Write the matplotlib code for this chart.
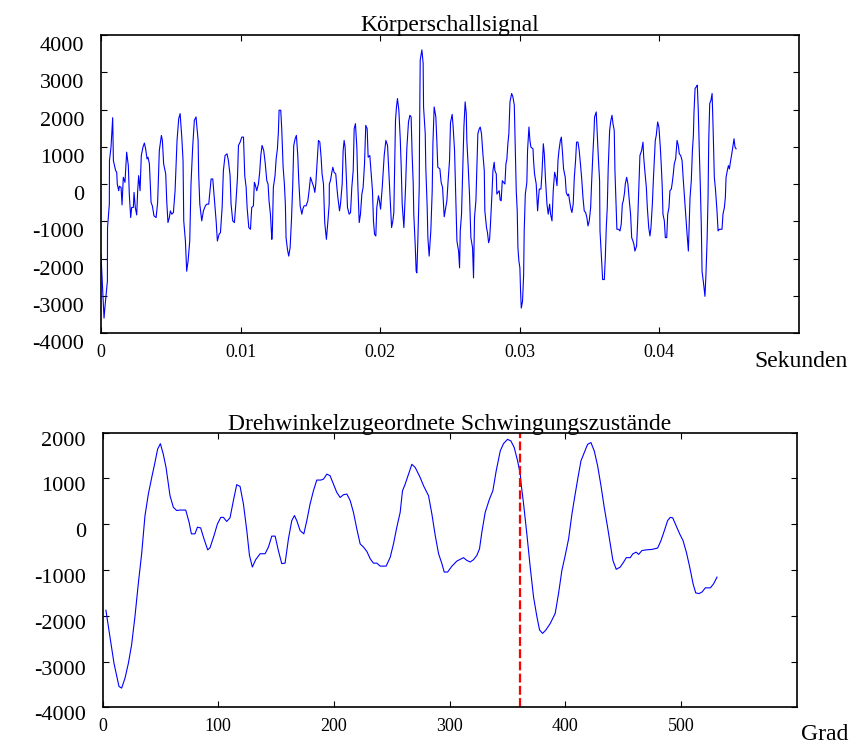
import numpy as np
import matplotlib
matplotlib.use("Agg")
import matplotlib.pyplot as plt
from matplotlib.transforms import ScaledTranslation

plt.rcParams['font.family'] = ['Liberation Serif', 'DejaVu Serif']
plt.rcParams['axes.unicode_minus'] = False

# Koerperschallsignal (Zeit in ms, Amplitude)
sig_ms = [
    0.00, 0.22, 0.29, 0.46, 0.47, 0.60, 0.61, 0.72, 0.84, 0.89, 1.05, 1.13, 1.17, 1.27, 1.32, 1.44,
    1.51, 1.60, 1.72, 1.84, 1.96, 2.03, 2.13, 2.20, 2.32, 2.37, 2.46, 2.56, 2.63, 2.70, 2.80, 2.89,
    3.01, 3.11, 3.20, 3.30, 3.37, 3.47, 3.59, 3.68, 3.80, 3.95, 4.06, 4.18, 4.33, 4.40, 4.49, 4.64,
    4.71, 4.80, 4.90, 4.97, 5.07, 5.19, 5.31, 5.45, 5.57, 5.67, 5.79, 5.88, 5.93, 6.05, 6.14, 6.24,
    6.36, 6.45, 6.57, 6.69, 6.81, 6.96, 7.00, 7.08, 7.22, 7.34, 7.48, 7.58, 7.72, 7.82, 7.89, 8.01,
    8.15, 8.25, 8.34, 8.46, 8.56, 8.68, 8.77, 8.89, 9.03, 9.13, 9.25, 9.32, 9.44, 9.56, 9.66, 9.78,
    9.85, 9.97, 10.09, 10.21, 10.30, 10.40, 10.47, 10.59, 10.71, 10.80, 10.92, 10.99,
    11.04, 11.16, 11.28, 11.37, 11.45, 11.54, 11.66, 11.76, 11.88, 11.97, 12.04, 12.14, 12.24, 12.28,
    12.35, 12.47, 12.55, 12.64, 12.71, 12.76, 12.88, 12.95, 13.05, 13.14, 13.21, 13.26, 13.36, 13.45,
    13.55, 13.65, 13.74, 13.81, 13.91, 14.00, 14.10, 14.17, 14.27, 14.39, 14.46, 14.55, 14.70, 14.82,
    14.91, 15.01, 15.13, 15.25, 15.32, 15.39, 15.48, 15.58, 15.68, 15.77, 15.84, 15.94, 16.03, 16.15,
    16.25, 16.35, 16.36, 16.44, 16.54, 16.61, 16.70, 16.82, 16.90, 16.97, 17.09, 17.16, 17.28, 17.35,
    17.42, 17.49, 17.59, 17.66, 17.78, 17.88, 17.97, 18.07, 18.14, 18.23, 18.33, 18.40, 18.50, 18.59,
    18.69, 18.78, 18.88, 18.97, 19.07, 19.14, 19.26, 19.36, 19.45, 19.52, 19.60, 19.69, 19.76, 19.88,
    19.95, 20.03, 20.15, 20.22, 20.29, 20.41, 20.53, 20.62, 20.72, 20.82, 20.91, 20.98, 21.10, 21.17,
    21.24, 21.34, 21.44, 21.51, 21.58, 21.70, 21.82, 21.91, 22.03, 22.13,
    22.22, 22.29, 22.37, 22.41, 22.51, 22.58, 22.63, 22.70, 22.80, 22.82, 22.87, 22.99, 23.08, 23.11,
    23.23, 23.27, 23.37, 23.42, 23.51, 23.63, 23.73, 23.78, 23.87, 23.99, 24.06, 24.13, 24.28, 24.37,
    24.47, 24.54, 24.59, 24.68, 24.78, 24.87, 24.97, 25.04, 25.16, 25.23, 25.33, 25.42, 25.50, 25.62,
    25.69, 25.74, 25.83, 25.88, 26.00, 26.09, 26.17, 26.21, 26.31, 26.40, 26.50, 26.62, 26.69, 26.76,
    26.86, 26.93, 27.00, 27.10, 27.17, 27.26, 27.36, 27.46, 27.50, 27.62, 27.69, 27.77, 27.84, 27.89,
    28.01, 28.08, 28.17, 28.22, 28.32, 28.36, 28.44, 28.53, 28.60, 28.67, 28.75, 28.84, 28.94, 29.01,
    29.08, 29.15, 29.22, 29.30, 29.42, 29.51, 29.61, 29.68, 29.75, 29.82, 29.87, 29.94, 30.01, 30.06,
    30.11, 30.20, 30.28, 30.32, 30.40, 30.51, 30.56, 30.66, 30.73, 30.80, 30.95, 30.99, 31.06, 31.18,
    31.28, 31.33, 31.40, 31.52, 31.59, 31.69, 31.76, 31.85, 31.95, 32.04, 32.14, 32.21, 32.31, 32.40,
    32.50, 32.59, 32.67, 32.74, 32.81, 32.91, 32.98, 33.07, 33.14,
    33.26, 33.33, 33.43, 33.50, 33.57, 33.67, 33.74, 33.83, 33.91, 34.00, 34.07, 34.17, 34.26, 34.36,
    34.45, 34.53, 34.62, 34.72, 34.81, 34.89, 34.98, 35.08, 35.15, 35.24, 35.32, 35.36, 35.48, 35.55,
    35.63, 35.72, 35.75, 35.84, 35.94, 36.06, 36.13, 36.20, 36.27, 36.34, 36.44, 36.53, 36.61, 36.68,
    36.77, 36.82, 36.89, 36.96, 37.08, 37.18, 37.27, 37.35, 37.42, 37.51, 37.56, 37.66, 37.75, 37.85,
    37.94, 38.02, 38.11, 38.18, 38.25, 38.37, 38.45, 38.54, 38.61, 38.73, 38.83, 38.88, 38.97, 39.07,
    39.14, 39.24, 39.33, 39.40, 39.50, 39.57, 39.64, 39.71, 39.78, 39.88, 39.97, 40.07, 40.14, 40.21,
    40.26, 40.36, 40.43, 40.53, 40.60, 40.69, 40.76, 40.86, 40.93, 41.00, 41.07, 41.17, 41.27, 41.36,
    41.43, 41.53, 41.63, 41.72, 41.82, 41.91, 41.98, 42.08, 42.13, 42.20, 42.29, 42.37, 42.44, 42.48,
    42.56, 42.65, 42.72, 42.79, 42.87, 42.94, 43.01, 43.06, 43.15, 43.27, 43.34, 43.42, 43.49, 43.54,
    43.61, 43.70, 43.78, 43.85, 43.94, 44.02, 44.13, 44.21, 44.30, 44.40, 44.49, 44.56, 44.66, 44.73,
    44.78, 44.87, 44.95, 45.02, 45.09, 45.19, 45.26, 45.35, 45.42, 45.50,
]
sig_val = [
    -1890, -3600, -3285, -2610, -1170, -540, 630, 990, 1780, 630, 360, 315, 0, -180, -60, -90,
    -560, 180, 45, 855, 495, -270, -900, -630, -630, -225, -630, -830, -180, 225, -180, 765,
    990, 1100, 945, 675, 720, 540, -495, -585, -855, -900, -495, 900, 1305, 1170, 540, 270,
    -450, -1035, -900, -720, -810, -765, -180, 1170, 1755, 1890, 1260, 630, -990, -1530, -2340, -2070,
    -1530, 0, 990, 1710, 1800, 1170, 270, -540, -990, -720, -585, -540, -540, -135, 135, 135,
    -540, -990, -1530, -1350, -1305, -630, 360, 765, 810, 630, 225, -540, -990, -1035, -540, 180,
    1035, 1125, 1260, 1260, 225, -90, -630, -1170, -1215, -630, -585, 45,
    0, -180, 0, 315, 765, 1035, 900, 585, 90, 0, -450, -810, -1485, -1260,
    -90, 225, 675, 945, 1395, 1980, 1980, 1485, 450, 0, -540, -1440, -1755, -1935,
    -1710, -945, 0, 1035, 1215, 1305, 765, 90, -585, -810, -675, -585, -585, -450,
    -180, 180, 45, -90, -225, 0, 540, 1170, 1125, 720, 270, 0, -1035, -1485,
    -1035, -540, 0, 90, 315, 450, 315, 270, -90, -360, -720, -540, 0, 900,
    1170, 990, 90, -630, -810, -765, -90, 360, 1485, 1620, 990, 0, -1035, -810,
    -270, -90, 540, 1575, 1485, 720, 765, 270, -180, -990, -1350, -1395, -630, -315,
    -450, -675, -90, 360, 765, 1170, 1035, 360, -360, -1170, -990, -765, 1710, 2070,
    2295, 1980, 1215, 450, -540, -1170, -90, 945, 1665, 1845,
    1800, 810, 0, -810, -1620, -2340, -2385, -1530, -90, 1170, 3330, 3600, 3240, 2070,
    1350, 450, -630, -1440, -1935, -1260, -180, 1080, 2070, 1800, 1170, 450, 405, 45,
    -90, -540, -880, -675, -450, 90, 630, 1650, 1870, 1530, 900, -360, -1530, -1800,
    -2250, -1260, -810, -90, 1530, 2205, 1890, 1170, 450, -270, -1440, -1710, -2520, -900,
    -450, 450, 1350, 1485, 1530, 1350, 810, 360, -720, -1170, -1305, -1575, -1485, -1170,
    -270, 360, 585, 360, 270, -270, -225, -180, -430, -450, 90, 45, 0, 540,
    675, 1080, 1350, 2205, 2430, 2340, 2115, 990, -180, -720, -1710, -2070, -2250, -2880,
    -3330, -3150, -2430, -1260, -270, 45, 900, 1530, 1170, 990, 945, 630, 270, 0,
    -720, -450, -135, -135, 270, 1080, 810, 90, -540, -810, -540, -810, -990, -180,
    315, 180, -45, 630, 900, 1170, 1260, 810, 405,
    180, -225, -315, -270, -450, -675, -765, -540, 180, 630, 1125, 1125, 900, 495,
    90, -360, -720, -765, -900, -1125, -990, -630, 45, 810, 1395, 1800, 1935, 1350,
    720, 90, -1260, -1890, -2565, -2565, -1980, -1170, -630, 450, 1440, 1710, 1845, 1620,
    1440, 360, -450, -1215, -1215, -1260, -1080, -540, -450, -225, 0, 180, 0, -450,
    -810, -1440, -1530, -1620, -1800, -1665, -990, 0, 765, 900, 1125, 720, 315, -90,
    -630, -1170, -1395, -1170, -540, 90, 630, 1170, 1305, 1665, 1530, 990, 495, -90,
    -810, -990, -1440, -1440, -810, -630, -180, -135, 45, 270, 540, 675, 1170, 1035,
    810, 765, 630, 90, -450, -945, -1305, -1800, -1170, -360, 90, 900, 1305, 1890,
    2565, 2610, 2655, 1980, 810, -90, -1170, -2340, -2610, -3015, -2430, -1530, -360, 1170,
    2160, 2250, 2430, 1530, 180, -135, -720, -1260, -1215, -1215, -1215, -810, -630, -360,
    180, 360, 495, 405, 585, 810, 990, 1215, 990, 945,
]

# Drehwinkelzugeordnete Schwingungszustaende (Grad, Amplitude)
grad = [
    2.8, 6.3, 9.8, 14.1, 16.4, 19.3, 22.2, 25.0, 27.9, 30.8, 33.7, 36.6, 39.5, 42.4, 45.2, 47.5,
    49.9, 52.4, 54.8, 58.2, 61.1, 64.0, 66.9, 71.8, 74.7, 76.7, 79.8, 81.9, 84.7, 87.6, 90.8, 92.8,
    96.3, 99.2, 102.1, 104.4, 107.2, 110.1, 113.0, 115.9, 118.8, 121.7, 124.6, 126.9, 129.4, 132.3,
    136.1, 140.4, 143.3, 146.2, 149.1, 151.9, 154.8, 157.7, 160.6, 163.5, 165.8, 167.8, 170.7, 173.9,
    176.5, 179.3, 182.2, 185.1, 188.6, 190.9, 193.8, 196.6, 199.5, 202.4, 205.3, 208.2, 211.1, 214.0,
    216.8, 219.7, 222.6, 225.5, 228.4, 231.3, 234.1, 237.0, 239.9, 245.1, 248.6, 251.4, 254.3, 257.2,
    259.2, 261.5, 264.4, 267.3, 270.2, 274.5, 277.4, 281.7, 284.6, 287.5, 290.4, 293.3, 295.3, 298.2,
    301.8, 306.2, 311.9, 314.8, 317.7, 320.6, 323.5, 325.8, 327.8, 330.7, 334.4, 337.3, 340.2, 343.7,
    346.5, 350.0, 352.9, 355.8, 358.7, 361.0, 361.8, 363.9, 366.7, 369.6, 372.5, 375.4, 377.7, 380.3,
    383.2, 386.9, 391.2, 394.1, 397.0, 399.9, 402.8, 405.7, 408.0, 410.9, 413.5, 416.3, 419.2, 422.1,
    425.0, 427.9, 430.8, 433.6, 436.5, 438.8, 441.1, 444.0, 447.5, 450.4, 452.7, 456.1, 458.4, 461.3,
    463.3, 466.2, 470.0, 474.9, 479.8, 482.7, 485.6, 488.4, 490.7, 492.8, 495.7, 498.8, 501.7, 504.6,
    507.5, 510.4, 512.7, 515.6, 518.2, 521.0, 525.4, 528.2, 531.1,
]
grad_val = [
    -1880, -2460, -3040, -3545, -3580, -3365, -3040, -2640, -2020, -1300, -645, 190, 660, 1020, 1350, 1640,
    1760, 1530, 1240, 625, 370, 300, 310, 310, 45, -210, -210, -65, -80, -320, -560, -515,
    -245, 5, 150, 150, 60, 140, 515, 865, 825, 440, -140, -680, -935, -775,
    -645, -645, -500, -260, -260, -575, -860, -850, -320, 80, 190, 80, -140, -210,
    80, 440, 730, 965, 965, 985, 1095, 1060, 875, 695, 585, 645, 660, 515,
    260, -100, -430, -500, -595, -755, -850, -850, -915, -915, -720, -430, -65, 260,
    730, 875, 1095, 1310, 1240, 1020, 840, 625, 225, -245, -645, -865, -1045, -1045,
    -920, -805, -730, -790, -825, -775, -680, -535, -175, 260, 550, 730, 1165, 1600,
    1760, 1855, 1820, 1675, 1385, 1095, 875, 440, -210, -935, -1590, -2020, -2310, -2385,
    -2310, -2170, -1950, -1515, -1010, -680, -320, 225, 585, 1020, 1385, 1565, 1745, 1785,
    1600, 1275, 840, 370, -65, -430, -790, -985, -935, -825, -730, -730, -645, -610,
    -660, -575, -560, -550, -520, -355, -140, 80, 150, 140, -30, -210, -355, -610,
    -935, -1300, -1500, -1515, -1480, -1390, -1390, -1300, -1155,
]
marke_grad = 361

fig = plt.figure(figsize=(8.52, 7.45), dpi=100)
ax1 = fig.add_axes([0.1185, 0.553, 0.8192, 0.4])
ax2 = fig.add_axes([0.1205, 0.0506, 0.8146, 0.3686])

ax1.plot(np.array(sig_ms) / 1000, sig_val, color='blue', lw=0.8)
ax1.set_xlim(0, 0.05)
ax1.set_ylim(-4000, 4000)
ax1.set_xticks([0, 0.01, 0.02, 0.03, 0.04])
ax1.set_xticklabels(['0', '0.01', '0.02', '0.03', '0.04'])
ax1.set_yticks(range(-4000, 4001, 1000))
ax1.set_yticklabels([str(v) for v in range(-4000, 4001, 1000)])
ax1.set_title('Körperschallsignal', fontsize=17, pad=3)

ax2.plot(grad, grad_val, color='blue', lw=0.8)
ax2.axvline(marke_grad, color='red', lw=1.6, ls=(0, (4, 1.5)))
ax2.set_xlim(0, 600)
ax2.set_ylim(-4000, 2000)
ax2.set_xticks(range(0, 501, 100))
ax2.set_yticks(range(-4000, 2001, 1000))
ax2.set_yticklabels([str(v) for v in range(-4000, 2001, 1000)])
ax2.set_title('Drehwinkelzugeordnete Schwingungszustände', fontsize=17, pad=2)

for ax, shift in ((ax1, 0.09), (ax2, 0.06)):
    for sp in ax.spines.values():
        sp.set_linewidth(1.2)
    ax.tick_params(direction='in', top=True, right=True, length=4, width=0.8)
    ax.tick_params(axis='y', labelsize=16, pad=12)
    ax.tick_params(axis='x', labelsize=13, pad=8)
    off = ScaledTranslation(0, -shift, fig.dpi_scale_trans)
    for lbl in ax.get_yticklabels():
        lbl.set_transform(lbl.get_transform() + off)

fig.text(848 / 852, 1 - 362 / 745, 'Sekunden', ha='right', va='center', fontsize=17)
fig.text(848 / 852, 1 - 735 / 745, 'Grad', ha='right', va='center', fontsize=17)

fig.savefig('out.png', dpi=100)
